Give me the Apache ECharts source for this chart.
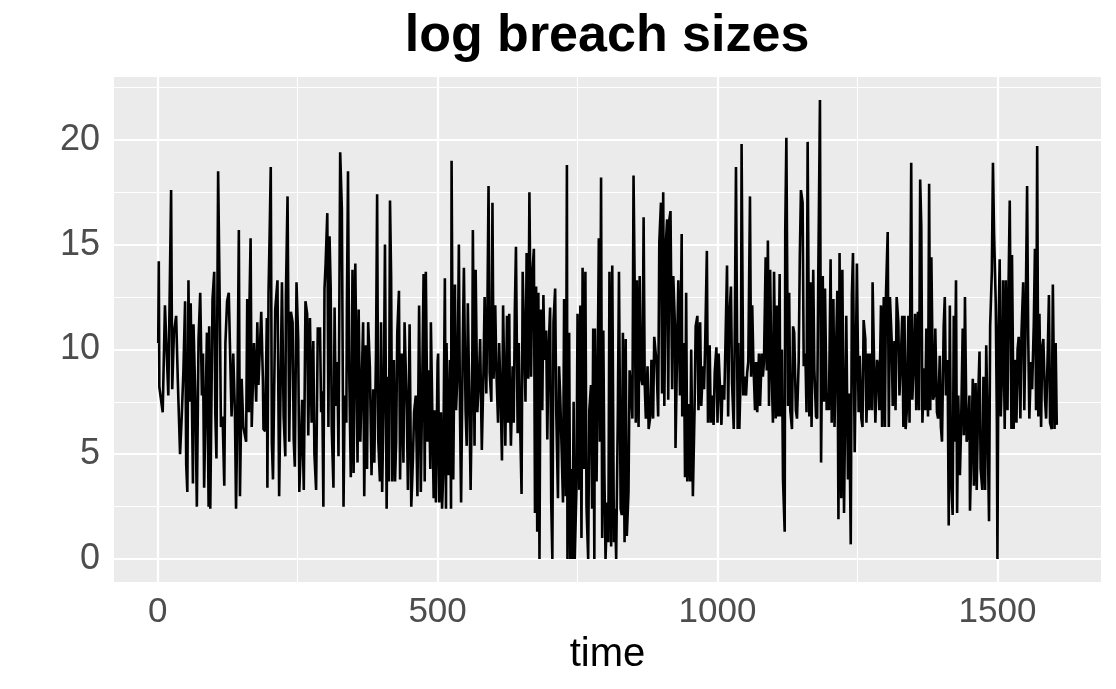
<!DOCTYPE html>
<html>
<head>
<meta charset="utf-8">
<script src="https://cdn.jsdelivr.net/npm/echarts@6/dist/echarts.min.js"></script>
<style>
html,body{margin:0;padding:0;background:#fff;}
#chart{width:1116px;height:689px;}
</style>
</head>
<body>
<div id="chart"></div>
<script>
// ---- data ----
const titleText = "log breach sizes";
const xAxisTitle = "time";
const xTicks = [0, 500, 1000, 1500];
const xMinorTicks = [250, 750, 1250];
const yTicks = [0, 5, 10, 15, 20];
const yMinorTicks = [2.5, 7.5, 12.5, 17.5, 22.5];

const times = [
1,2,3,9,13,19,24,26,29,33,36,40,43,46,49,51,53,55,57,59,63,64,67,70,73,76,79,81,83,88,91,92,94,98,101,103,105,108,111,113,116,119,121,124,127,129,132,135,138,140,142,145,147,150,153,158,160,163,164,166,168,172,176,178,180,185,188,189,192,195,196,198,200,202,204,206,210,214,217,
222,225,228,229,232,235,238,241,243,245,248,251,253,256,258,261,264,267,269,272,275,278,280,283,286,290,292,294,296,298,300,303,305,307,309,311,314,316,318,321,323,326,329,332,334,337,338,340,342,345,348,350,353,355,357,359,362,365,367,369,372,374,376,379,382,385,387,390,392,394,397,399,401,404,406,409,411,413,415,417,419,422,424,426,428,431,433,436,439,441,
445,447,450,453,456,458,461,464,466,467,470,472,475,477,479,482,484,487,488,491,493,495,497,500,501,503,506,508,510,513,515,516,519,522,524,525,528,531,533,536,538,540,542,545,547,550,552,554,557,559,562,563,566,568,571,574,576,579,582,584,587,589,591,593,596,598,600,603,605,608,610,613,615,617,619,621,624,626,628,629,631,634,636,638,640,643,645,647,650,652,654,657,659,662,664,
667,669,672,674,676,678,680,682,684,687,689,691,694,696,698,701,703,705,707,710,712,715,717,719,722,724,726,729,731,732,735,737,738,741,743,745,748,750,753,755,757,759,762,764,766,769,771,774,776,778,780,781,784,786,788,790,792,794,796,798,800,803,805,807,810,812,815,817,819,822,824,827,829,831,834,836,838,841,843,846,848,850,852,854,856,859,861,863,866,868,870,872,875,877,880,882,885,887,
891,894,896,899,901,903,905,908,910,912,914,916,919,921,924,925,928,930,933,936,937,940,942,944,946,949,951,953,956,959,961,964,966,969,971,974,976,978,981,983,986,988,990,993,995,998,1000,1002,1005,1007,1009,1012,1014,1017,1019,1021,1024,1026,1029,1031,1033,1036,1037,1039,1042,1043,1046,1048,1051,1053,1055,1058,1060,1062,1064,1067,1069,1071,1074,1076,1079,1081,1083,1086,1088,1090,1092,1094,1096,1099,1101,1104,1106,1108,1111,
1112,1115,1117,1120,1121,1123,1126,1128,1130,1133,1135,1137,1140,1142,1145,1147,1149,1152,1154,1157,1159,1161,1164,1166,1168,1171,1173,1176,1178,1180,1183,1185,1188,1190,1192,1195,1197,1199,1202,1204,1207,1209,1211,1214,1216,1218,1221,1223,1226,1228,1230,1233,1235,1238,1240,1242,1245,1247,1249,1252,1254,1257,1259,1261,1264,1266,1269,1271,1273,1276,1277,1280,1282,1285,1287,1289,1292,1294,1297,1299,1301,1304,1306,1308,1311,1313,1316,1318,1320,1323,1325,1327,1330,1332,1334,
1336,1338,1341,1343,1346,1348,1351,1353,1355,1358,1360,1362,1364,1366,1369,1371,1373,1376,1378,1380,1382,1385,1387,1389,1392,1394,1397,1399,1401,1404,1406,1408,1411,1413,1415,1417,1420,1422,1423,1426,1428,1430,1433,1435,1438,1440,1442,1445,1447,1450,1451,1454,1456,1458,1461,1463,1466,1468,1470,1473,1475,1478,1480,1482,1485,1487,1490,1492,1494,1497,1499,1500,1502,1504,1506,1509,1510,1513,1515,1518,1520,1522,1525,1526,1529,1531,1534,1536,1538,1541,1543,1546,1548,1550,1553,1555,1557,1560,1562,1565,1567,
1569,1571,1573,1575,1578,1580,1582,1585,1587,1590,1592,1594,1597,1599,1602,1604,1606
];

const values = [
10.3,14.2,8.2,7.0,12.1,7.8,17.6,8.1,10.8,11.6,8.5,5.0,6.8,9.0,12.3,4.5,3.2,13.3,7.5,12.2,3.6,11.2,8.0,2.5,10.5,12.7,7.8,9.8,3.4,10.8,2.5,11.1,2.4,12.4,13.7,6.9,4.8,18.5,11.9,6.3,6.8,3.5,10.3,12.3,12.7,10.3,6.8,9.8,7.0,2.4,6.2,15.7,3.0,8.6,6.3,5.6,12.4,7.0,12.2,15.3,6.3,10.3,7.5,11.3,8.3,11.8,8.5,6.2,6.1,11.5,3.4,12.7,15.5,18.7,5.5,3.8,11.9,13.3,3.0,
13.2,6.8,4.9,12.5,17.3,5.6,11.8,11.3,5.7,4.4,13.2,10.5,3.2,5.6,7.6,3.3,12.3,11.7,5.9,11.5,6.5,10.4,5.0,3.3,11.0,11.0,7.0,8.0,2.5,12.9,14.1,16.5,6.3,15.4,13.0,6.2,3.4,12.0,7.3,9.4,4.9,19.4,16.7,2.5,7.8,6.5,11.9,18.5,9.2,3.9,13.8,4.1,14.1,9.5,4.6,11.9,5.6,9.0,11.3,3.0,10.2,4.3,11.3,9.2,4.0,8.1,4.6,9.8,17.4,5.7,3.7,11.3,3.2,8.3,15.0,2.4,8.7,3.7,17.1,13.5,3.7,9.5,3.7,5.6,10.8,12.8,3.8,9.8,4.6,11.3,
7.1,3.3,11.2,2.5,4.8,7.0,7.8,3.0,9.2,12.1,3.2,7.1,13.6,3.7,13.7,5.6,9.0,4.3,11.3,6.3,2.9,7.1,2.7,9.4,9.8,2.7,7.0,2.4,4.0,13.4,2.4,10.3,4.0,9.5,2.4,19.0,3.8,13.1,7.1,9.2,15.0,7.0,2.7,10.3,13.9,7.1,5.4,12.2,7.1,3.3,9.4,15.7,5.4,13.8,7.0,8.7,10.5,5.2,9.0,12.5,7.9,11.9,17.8,8.9,7.5,17.0,8.6,12.1,9.0,6.5,10.3,7.3,4.7,12.1,8.7,5.4,11.6,6.5,11.7,7.9,5.4,9.2,6.5,11.9,14.9,6.0,10.3,7.1,3.1,13.7,13.7,7.5,14.6,8.6,17.5,
8.7,13.5,14.8,2.2,13.0,1.3,12.7,0,11.9,7.1,12.6,9.5,10.9,5.7,9.7,12.0,2.7,0,11.3,12.9,7.0,2.9,9.2,7.8,4.8,2.7,12.4,3.0,18.8,0,10.8,0,4.3,0,7.5,0,3.3,11.7,3.3,12.1,1.0,13.9,4.3,13.7,2.5,0,7.1,8.3,2.4,11.0,0,11.0,3.7,9.0,15.3,5.6,18.2,1.0,10.9,4.0,0,2.7,0.8,13.7,0.6,14.0,0.8,2.4,0,7.1,13.7,2.4,2.1,10.8,0.8,10.5,1.1,3.2,9.0,7.8,6.7,18.3,13.2,6.5,13.3,6.3,13.5,8.7,8.3,16.3,8.3,6.7,9.2,6.2,6.8,9.5,6.7,10.6,
9.4,6.8,15.1,17.0,7.9,17.5,7.3,15.2,16.2,7.6,16.2,16.6,8.1,13.5,11.1,5.3,10.3,13.3,7.8,15.5,6.8,10.3,3.9,12.7,3.7,7.4,3.7,10.0,3.0,7.1,11.1,11.6,7.1,11.3,7.3,9.2,8.1,10.3,14.7,6.5,10.2,6.5,7.8,6.4,8.9,10.1,6.5,9.8,7.8,6.4,8.3,7.6,10.0,14.0,6.8,11.4,13.0,8.4,6.2,11.3,18.7,6.2,10.3,6.2,9.4,19.8,7.8,8.7,7.8,8.9,9.4,17.3,8.7,12.1,9.5,7.1,9.4,7.0,9.8,7.3,9.8,8.7,9.4,14.4,9.0,15.2,7.3,13.8,9.7,6.5,13.7,6.7,12.1,6.8,13.6,
6.8,10.0,3.8,1.3,15.7,20.1,7.3,12.7,7.1,6.2,11.1,10.8,7.1,6.7,9.4,14.4,17.6,17.0,9.2,9.8,7.0,19.9,6.8,13.2,6.3,13.8,9.0,6.8,6.7,13.5,21.9,4.6,13.5,7.5,12.9,7.1,7.9,7.1,14.3,6.5,12.4,6.3,9.0,12.8,1.9,14.6,2.9,13.8,2.2,7.0,11.6,3.8,7.9,0.7,12.6,14.6,5.1,9.2,14.1,7.0,9.7,6.7,6.3,11.4,10.5,6.5,9.8,7.1,9.8,7.1,13.2,8.9,6.5,9.5,9.2,7.1,12.1,6.3,12.5,6.3,12.7,15.6,6.3,12.5,10.5,7.3,10.4,7.1,12.5,11.3,7.8,9.2,11.6,6.3,11.6,
6.2,7.0,11.6,6.5,18.9,7.6,9.8,11.7,7.1,11.8,7.1,18.1,15.9,6.5,9.1,7.1,11.0,6.8,17.9,7.1,14.4,7.6,7.8,11.0,7.0,6.7,9.7,6.3,5.6,11.1,12.5,7.8,9.5,1.6,12.1,4.0,2.1,11.6,5.6,13.3,2.2,7.8,4.0,6.2,11.0,5.9,12.5,5.6,5.9,7.8,2.3,5.9,8.6,3.5,8.4,3.3,8.1,9.9,4.3,3.3,8.7,3.3,10.2,7.1,1.8,11.1,13.7,18.9,15.5,12.2,6.5,0,11.0,14.3,6.8,9.8,13.3,6.2,13.3,7.1,13.3,17.1,6.2,14.5,6.2,9.5,6.5,10.0,10.6,6.7,10.8,13.2,7.1,10.6,17.8,10.6,6.7,9.4,8.1,11.3,14.8,
7.1,19.7,6.8,11.7,6.3,10.1,10.5,7.6,6.7,10.0,12.6,6.5,6.2,13.1,6.2,10.3,6.4
];

const seriesData = times.map((t, i) => [t, values[i]]);

const FONT = "'Liberation Sans', Arial, Helvetica, sans-serif";
const gridColor = '#FFFFFF';

function vLines(list, w) { return list.map(v => ({ xAxis: v, lineStyle: { color: gridColor, width: w, type: 'solid' } })); }
function hLines(list, w) { return list.map(v => ({ yAxis: v, lineStyle: { color: gridColor, width: w, type: 'solid' } })); }

const chart = echarts.init(document.getElementById('chart'), null, { renderer: 'canvas' });
chart.setOption({
  animation: false,
  backgroundColor: '#FFFFFF',
  title: {
    text: titleText,
    left: 607,
    top: 11,
    padding: 0,
    textAlign: 'center',
    textStyle: { fontFamily: FONT, fontWeight: 'bold', fontSize: 52, color: '#000000' }
  },
  grid: {
    left: 114, right: 15, top: 77, bottom: 107,
    show: true, backgroundColor: '#EBEBEB', borderWidth: 0
  },
  xAxis: {
    type: 'value',
    min: -78, max: 1685,
    name: xAxisTitle,
    nameLocation: 'middle',
    nameGap: 53,
    nameTextStyle: { fontFamily: FONT, fontSize: 40, color: '#000000' },
    axisLine: { show: false },
    axisTick: { show: true, length: 7, lineStyle: { color: '#333333', width: 2 }, customValues: xTicks },
    axisLabel: { customValues: xTicks, formatter: v => String(v), fontFamily: FONT, fontSize: 35, color: '#4D4D4D', margin: 13 },
    splitLine: { show: false },
    minorSplitLine: { show: false }
  },
  yAxis: {
    type: 'value',
    min: -1.095, max: 22.995,
    axisLine: { show: false },
    axisTick: { show: true, length: 7, lineStyle: { color: '#333333', width: 2 }, customValues: yTicks },
    axisLabel: { customValues: yTicks, formatter: v => String(v), fontFamily: FONT, fontSize: 36, color: '#4D4D4D', margin: 14 },
    splitLine: { show: false },
    minorSplitLine: { show: false }
  },
  series: [
    {
      type: 'line',
      data: [],
      z: 1,
      silent: true,
      markLine: {
        silent: true,
        symbol: 'none',
        animation: false,
        label: { show: false },
        emphasis: { disabled: true },
        data: [].concat(
          vLines(xMinorTicks, 1.1), hLines(yMinorTicks, 1.1),
          vLines(xTicks, 2.2), hLines(yTicks, 2.2)
        )
      }
    },
    {
      type: 'line',
      data: seriesData,
      z: 5,
      showSymbol: false,
      symbol: 'none',
      sampling: null,
      silent: true,
      clip: true,
      lineStyle: { color: '#000000', width: 2.6, join: 'miter', miterLimit: 2 }
    }
  ]
});
</script>
</body>
</html>
